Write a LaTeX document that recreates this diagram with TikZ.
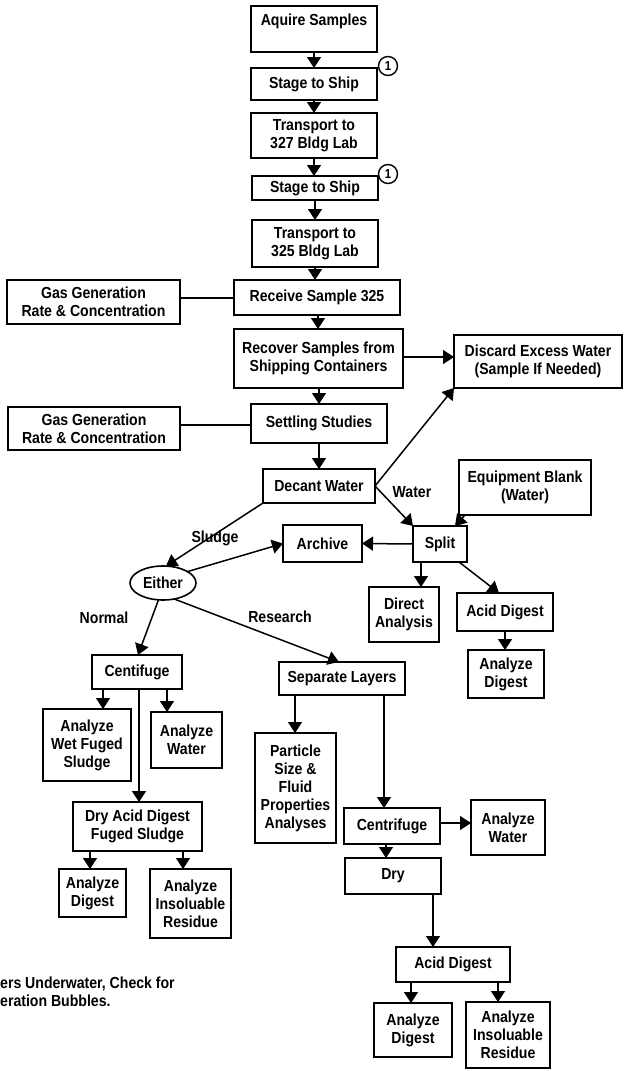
\documentclass[tikz,border=0pt]{standalone}
\usepackage{fontspec}
\setmainfont{Liberation Sans}[FakeStretch=0.88]
\usetikzlibrary{arrows.meta,shapes.geometric,calc}
\newcommand\bx[6]{\node[box, minimum width={(#4-#2)*1pt}, minimum height={(#5-#3)*1pt}] (#1) at ({(#2+#4)/2},{(#3+#5)/2}) {#6};}
\begin{document}
\begin{tikzpicture}[x=1pt,y=-1pt,
  box/.style={draw, line width=1.6pt, inner sep=0pt, outer sep=0pt, align=center, font=\fontsize{16}{18}\selectfont\bfseries},
  lbl/.style={font=\fontsize{16}{18}\selectfont\bfseries, inner sep=0pt},
  arr/.style={line width=1.5pt, -{Triangle[length=11pt,width=14pt]}},
  ln/.style={line width=1.5pt},
  num/.style={circle, draw, line width=1.4pt, inner sep=0pt, minimum size=19pt, font=\fontsize{13}{13}\selectfont\bfseries, fill=white}]
\fill[white] (0,0) rectangle (626,1071);
\useasboundingbox (0,0) rectangle (626,1071);
% boxes
\bx{aq}{251}{6}{377}{52}{Aquire Samples\\\mbox{}}
\bx{st1}{251}{68}{377}{100}{Stage to Ship}
\bx{tr1}{251}{113}{377}{158}{Transport to\\327 Bldg Lab}
\bx{st2}{252}{176}{378}{200}{Stage to Ship}
\bx{tr2}{252}{220}{378}{267}{Transport to\\325 Bldg Lab}
\bx{rec}{234}{280}{400}{315}{Receive Sample 325}
\bx{gas1}{7}{280}{180}{324}{Gas Generation\\Rate \& Concentration}
\bx{rcv}{234}{329}{403}{388}{Recover Samples from\\Shipping Containers}
\bx{dis}{454}{335}{622}{388}{Discard Excess Water\\(Sample If Needed)}
\bx{set}{251}{404}{387}{443}{Settling Studies}
\bx{gas2}{8}{407}{180}{450}{Gas Generation\\Rate \& Concentration}
\bx{dec}{263}{469}{375}{503}{Decant Water}
\bx{eq}{459}{460}{591}{515}{Equipment Blank\\(Water)}
\bx{spl}{413}{526}{467}{562}{Split}
\bx{arc}{283}{525}{362}{562}{Archive}
\node[draw, ellipse, line width=1.6pt, minimum width=66pt, minimum height=34pt, inner sep=0pt, outer sep=0pt, font=\fontsize{16}{18}\selectfont\bfseries] (eit) at (163,583) {Either};
\bx{dir}{369}{587}{439}{642}{Direct\\Analysis}
\bx{ad1}{457}{593}{553}{631}{Acid Digest}
\bx{ag1}{468}{650}{544}{698}{Analyze\\Digest}
\bx{cen1}{92}{655}{182}{689}{Centifuge}
\bx{sep}{279}{662}{405}{695}{Separate Layers}
\bx{wet}{43}{709}{131}{781}{Analyze\\Wet Fuged\\Sludge}
\bx{aw1}{151}{712}{222}{768}{Analyze\\Water}
\bx{par}{255}{733}{336}{843}{Particle\\Size \&\\Fluid\\Properties\\Analyses}
\bx{dad}{73}{802}{202}{851}{Dry Acid Digest\\Fuged Sludge}
\bx{cen2}{344}{808}{440}{844}{Centrifuge}
\bx{aw2}{471}{800}{545}{855}{Analyze\\Water}
\bx{dry}{345}{858}{441}{894}{Dry}
\bx{ag2}{59}{869}{126}{917}{Analyze\\Digest}
\bx{ins1}{150}{869}{231}{938}{Analyze\\Insoluable\\Residue}
\bx{ad2}{396}{947}{510}{982}{Acid Digest}
\bx{ag3}{374}{1003}{452}{1057}{Analyze\\Digest}
\bx{ins2}{466}{1002}{550}{1068}{Analyze\\Insoluable\\Residue}
% numbered circles
\node[num] (c1) at (388,66) {1};
\node[num] (c2) at (388,174) {1};
% labels
\node[lbl] (lwater) at (412,492) {Water};
\node[lbl] (lsludge) at (215,538) {Sludge};
\node[lbl] (lnormal) at (104,618) {Normal};
\node[lbl] (lresearch) at (280,617) {Research};
\node[lbl, anchor=north west, align=left] (fn) at (0,977) {ers Underwater, Check for\\eration Bubbles.};
% connectors
\draw[arr] (aq.south) -- (aq.south |- st1.north);
\draw[arr] (st1.south) -- (st1.south |- tr1.north);
\draw[arr] (tr1.south) -- (tr1.south |- st2.north);
\draw[arr] (st2.south) -- (st2.south |- tr2.north);
\draw[arr] (tr2.south) -- (tr2.south |- rec.north);
\draw[arr] (318,0 |- rec.south) -- (318,0 |- rcv.north);
\draw[arr] (319,0 |- rcv.south) -- (319,0 |- set.north);
\draw[arr] (set.south) -- (set.south |- dec.north);
\draw[ln] (gas1.east |- 0,298) -- (rec.west |- 0,298);
\draw[ln] (gas2.east |- 0,425) -- (set.west |- 0,425);
\draw[arr] (rcv.east |- 0,357) -- (dis.west |- 0,357);
\draw[arr] (dec.east) -- (dis.south west);
\draw[arr] (dec.east) -- (spl.north west);
\draw[arr] (465,0 |- eq.south) -- (455,0 |- spl.north);
\draw[arr] (spl.west) -- (arc.east);
\draw[arr] (dec.south west) -- (eit.80);
\draw[arr] (eit.25) -- (arc.west);
\draw[arr] (eit.-105) -- (138,0 |- cen1.north);
\draw[arr] (eit.-55) -- (339,0 |- sep.north);
\draw[arr] (421,0 |- spl.south) -- (421,0 |- dir.north);
\draw[arr] (459,0 |- spl.south) -- (499,0 |- ad1.north);
\draw[arr] (505,0 |- ad1.south) -- (505,0 |- ag1.north);
\draw[arr] (103,0 |- cen1.south) -- (103,0 |- wet.north);
\draw[arr] (167,0 |- cen1.south) -- (167,0 |- aw1.north);
\draw[arr] (139,0 |- cen1.south) -- (139,0 |- dad.north);
\draw[arr] (295,0 |- sep.south) -- (295,0 |- par.north);
\draw[arr] (384,0 |- sep.south) -- (384,0 |- cen2.north);
\draw[arr] (cen2.east |- 0,823) -- (aw2.west |- 0,823);
\draw[arr] (386,0 |- cen2.south) -- (386,0 |- dry.north);
\draw[arr] (433,0 |- dry.south) -- (433,0 |- ad2.north);
\draw[arr] (90,0 |- dad.south) -- (90,0 |- ag2.north);
\draw[arr] (183,0 |- dad.south) -- (183,0 |- ins1.north);
\draw[arr] (411,0 |- ad2.south) -- (411,0 |- ag3.north);
\draw[arr] (498,0 |- ad2.south) -- (498,0 |- ins2.north);
\end{tikzpicture}
\end{document}
